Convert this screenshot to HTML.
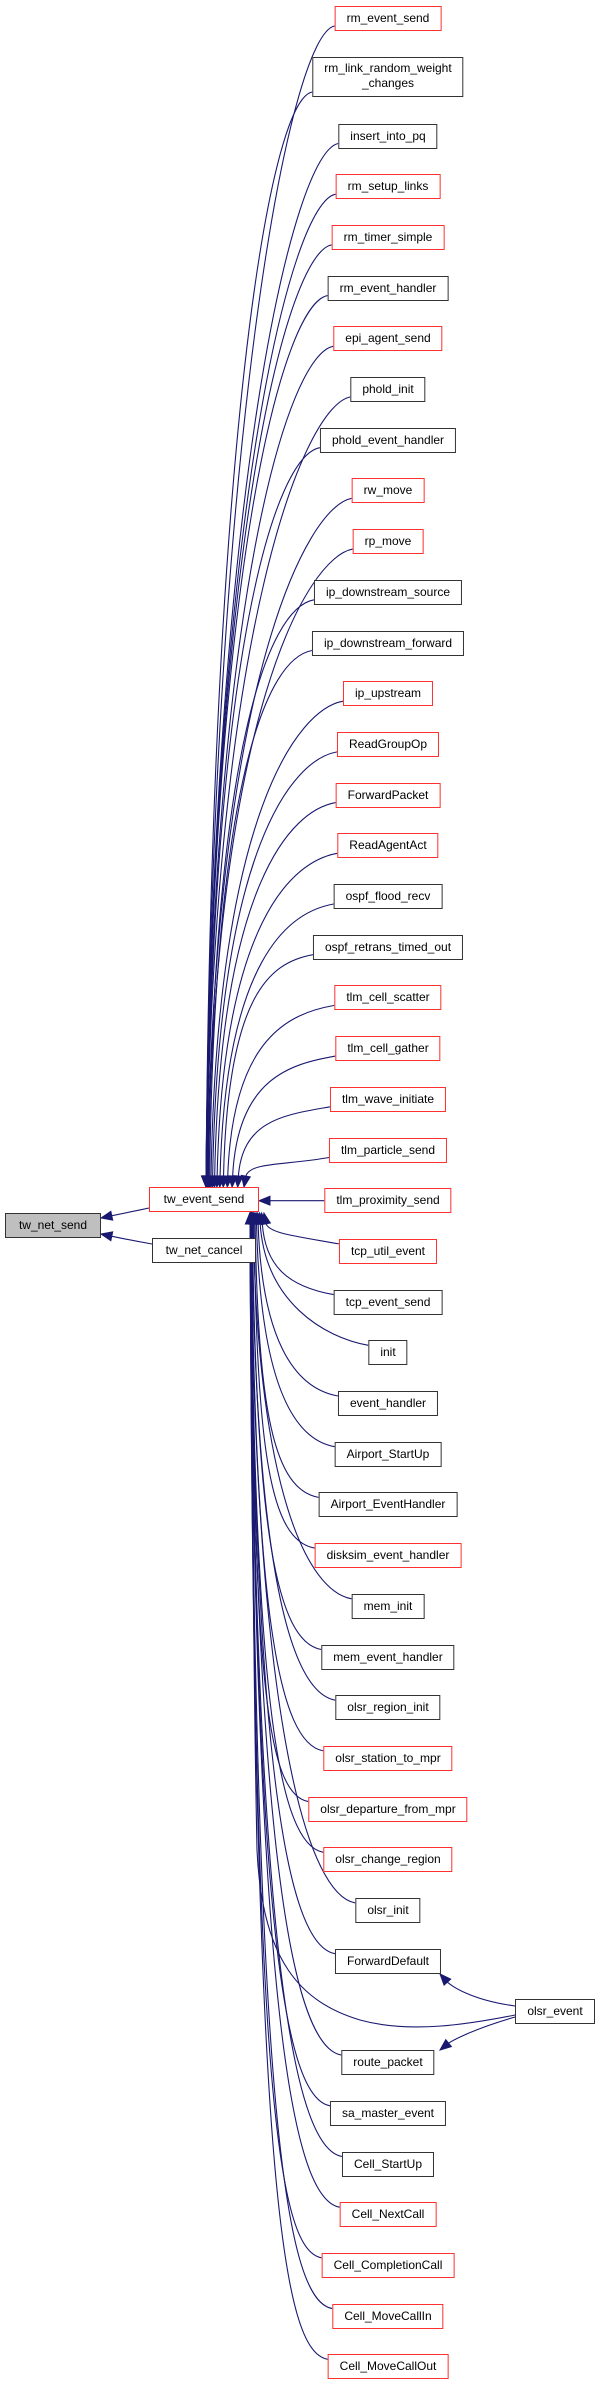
<!DOCTYPE html>
<html><head><meta charset="utf-8">
<style>
html,body{margin:0;padding:0;background:#fff;}
body{width:600px;height:2384px;position:relative;overflow:hidden;font-family:"Liberation Sans",Arial,sans-serif;}
.n{position:absolute;transform:translateX(-50%);box-sizing:border-box;height:25px;line-height:23px;padding:0 11px;border:1.5px solid #333;background:#fff;font-size:12px;color:#000;white-space:nowrap;text-align:center;}
.r{border-color:#ff3030;}
svg{position:absolute;left:0;top:0;}
</style></head><body>
<svg id="s" width="600" height="2384"></svg>
<div id="nodes">
<div class="n" style="left:53px;top:1213px;width:96px;background:#bfbfbf;">tw_net_send</div>
<div class="n r" style="left:204px;top:1187px;width:110px;">tw_event_send</div>
<div class="n" style="left:204px;top:1238px;width:104px;">tw_net_cancel</div>
<div class="n" style="left:555px;top:1999px;width:80px;">olsr_event</div>
</div>
<div id="list">
<div class="n r" style="left:388px;top:6px">rm_event_send</div>
<div class="n" style="left:388px;top:57px;height:40px;line-height:15px;padding-top:3px">rm_link_random_weight<br>_changes</div>
<div class="n" style="left:388px;top:123.5px">insert_into_pq</div>
<div class="n r" style="left:388px;top:174.2px">rm_setup_links</div>
<div class="n r" style="left:388px;top:224.9px">rm_timer_simple</div>
<div class="n" style="left:388px;top:275.6px">rm_event_handler</div>
<div class="n r" style="left:388px;top:326.3px">epi_agent_send</div>
<div class="n" style="left:388px;top:377px">phold_init</div>
<div class="n" style="left:388px;top:427.7px">phold_event_handler</div>
<div class="n r" style="left:388px;top:478.4px">rw_move</div>
<div class="n r" style="left:388px;top:529.1px">rp_move</div>
<div class="n" style="left:388px;top:579.8px">ip_downstream_source</div>
<div class="n" style="left:388px;top:630.5px">ip_downstream_forward</div>
<div class="n r" style="left:388px;top:681.2px">ip_upstream</div>
<div class="n r" style="left:388px;top:731.9px">ReadGroupOp</div>
<div class="n r" style="left:388px;top:782.6px">ForwardPacket</div>
<div class="n r" style="left:388px;top:833.3px">ReadAgentAct</div>
<div class="n" style="left:388px;top:884px">ospf_flood_recv</div>
<div class="n" style="left:388px;top:934.7px">ospf_retrans_timed_out</div>
<div class="n r" style="left:388px;top:985.4px">tlm_cell_scatter</div>
<div class="n r" style="left:388px;top:1036.1px">tlm_cell_gather</div>
<div class="n r" style="left:388px;top:1086.8px">tlm_wave_initiate</div>
<div class="n r" style="left:388px;top:1137.5px">tlm_particle_send</div>
<div class="n r" style="left:388px;top:1188.2px">tlm_proximity_send</div>
<div class="n r" style="left:388px;top:1238.9px">tcp_util_event</div>
<div class="n" style="left:388px;top:1289.6px">tcp_event_send</div>
<div class="n" style="left:388px;top:1340.3px">init</div>
<div class="n" style="left:388px;top:1391px">event_handler</div>
<div class="n" style="left:388px;top:1441.7px">Airport_StartUp</div>
<div class="n" style="left:388px;top:1492.4px">Airport_EventHandler</div>
<div class="n r" style="left:388px;top:1543.1px">disksim_event_handler</div>
<div class="n" style="left:388px;top:1593.8px">mem_init</div>
<div class="n" style="left:388px;top:1644.5px">mem_event_handler</div>
<div class="n" style="left:388px;top:1695.2px">olsr_region_init</div>
<div class="n r" style="left:388px;top:1745.9px">olsr_station_to_mpr</div>
<div class="n r" style="left:388px;top:1796.6px">olsr_departure_from_mpr</div>
<div class="n r" style="left:388px;top:1847.3px">olsr_change_region</div>
<div class="n" style="left:388px;top:1898px">olsr_init</div>
<div class="n" style="left:388px;top:1948.7px">ForwardDefault</div>
<div class="n" style="left:388px;top:2050.1px">route_packet</div>
<div class="n" style="left:388px;top:2100.8px">sa_master_event</div>
<div class="n" style="left:388px;top:2151.5px">Cell_StartUp</div>
<div class="n r" style="left:388px;top:2202.2px">Cell_NextCall</div>
<div class="n r" style="left:388px;top:2252.9px">Cell_CompletionCall</div>
<div class="n r" style="left:388px;top:2303.6px">Cell_MoveCallIn</div>
<div class="n r" style="left:388px;top:2354.3px">Cell_MoveCallOut</div>
</div>
<script>
(function(){
var s=document.getElementById('s'),C='#191970',out='';
function path(d){out+='<path d="'+d+'" fill="none" stroke="'+C+'" stroke-width="1.1"/>';}
function arrow(x1,y1,x2,y2){var dx=x2-x1,dy=y2-y1,l=Math.sqrt(dx*dx+dy*dy)||1;dx/=l;dy/=l;var L=11,W=4.5;
var bx=x2-dx*L,by=y2-dy*L;out+='<polygon points="'+x2+','+y2+' '+(bx-dy*W)+','+(by+dx*W)+' '+(bx+dy*W)+','+(by-dx*W)+'" fill="'+C+'" stroke="'+C+'"/>';}
function edge(p0,p1,p2,p3){var ux=p3[0]-p2[0],uy=p3[1]-p2[1],l=Math.sqrt(ux*ux+uy*uy)||1;
var e=[p3[0]-ux/l*10,p3[1]-uy/l*10];
path('M'+p0[0]+','+p0[1]+' C'+p1[0]+','+p1[1]+' '+p2[0]+','+p2[1]+' '+e[0]+','+e[1]);arrow(p2[0],p2[1],p3[0],p3[1]);}
var nodes=document.querySelectorAll('#list .n');
for(var i=0;i<nodes.length;i++){var r=nodes[i].getBoundingClientRect();var L=r.left,cy=r.top+r.height/2;
 if(cy<1187){var t=(cy-18)/(1150-18);var tx=206+38*Math.pow(t,4);var sy=r.top+r.height-5;var dy=1187-sy;
  edge([L,sy],[L-45,sy+8],[tx+(L-tx)*0.05,sy+dy*(0.35-0.2*t)],[tx,1187]);}
 else if(cy<1213){path('M'+L+','+cy+' L270,'+cy);arrow(L,cy,259,cy);}
 else {var t=(cy-1250)/(2367-1250);var tx=250+14*Math.pow(1-t,4);var sy=r.top+5;var dy=sy-1213;
  edge([L,sy],[L-45,sy-8],[tx+(L-tx)*0.05,sy-dy*(0.35-0.2*t)],[tx,1213]);}
}
edge([515,2006],[470,2000],[450,1985],[440,1974]);
edge([515,2017],[470,2030],[450,2042],[440,2050]);
path('M515,2015 C470,2024 410,2034 360,2020 C300,2002 262,1960 257,1850 C254,1700 252,1500 252,1224');
arrow(252,1400,252,1213);
edge([149,1208],[135,1211],[120,1214],[101,1218]);
edge([152,1244],[135,1241],[120,1238],[101,1234]);
s.innerHTML=out;
})();
</script>
</body></html>
